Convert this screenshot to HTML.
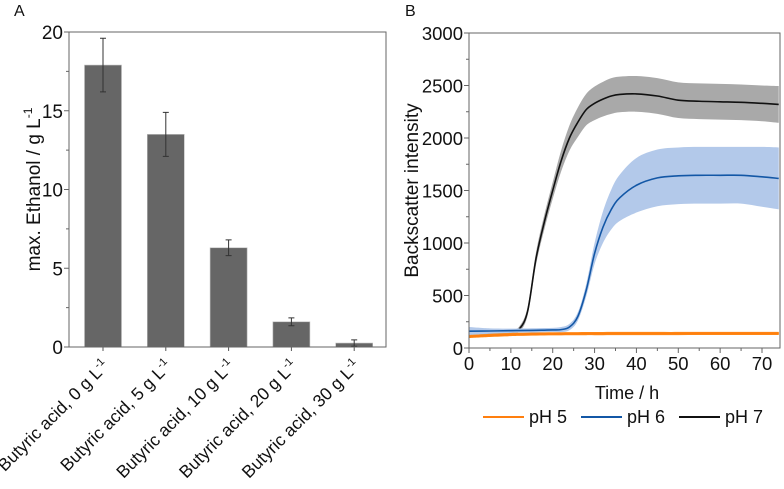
<!DOCTYPE html>
<html><head><meta charset="utf-8"><style>
body{margin:0;background:#fff;width:784px;height:484px;overflow:hidden}
svg text{font-family:"Liberation Sans",Arial,sans-serif;fill:#111}
</style></head><body>
<svg id="s" width="784" height="484">
<text x="14" y="16" font-size="16">A</text>
<text x="405" y="16" font-size="16">B</text>
<g id="ga"></g>
<g id="gb"></g>
</svg>
<script>
const categories=["Butyric acid, 0 g L","Butyric acid, 5 g L","Butyric acid, 10 g L","Butyric acid, 20 g L","Butyric acid, 30 g L"];
const ethanol=[17.9,13.5,6.3,1.6,0.25];
const ethanolErr=[1.7,1.4,0.5,0.25,0.2];
const yTicksA=[0,5,10,15,20];
const time=[0,5,10,12,14,16,18,20,22,24,26,28,30,32,34,36,40,45,50,55,60,65,70,74];
const ph7=[130,150,160,180,350,850,1200,1500,1780,2000,2150,2270,2330,2370,2400,2415,2420,2400,2360,2350,2345,2340,2330,2320];
const ph7Sd=[30,20,20,25,40,60,70,80,100,120,140,150,160,165,170,170,170,170,170,170,170,170,170,175];
const ph6=[160,162,165,166,167,168,170,172,175,200,300,550,900,1150,1320,1430,1550,1620,1640,1645,1645,1645,1630,1615];
const ph6Sd=[40,25,20,20,20,20,20,20,25,30,40,60,100,150,190,220,260,270,270,270,270,270,285,295];
const ph5=[110,120,128,130,132,133,134,135,135,136,136,137,137,137,138,138,138,138,138,139,139,139,139,139];
const ph5Sd=[15,15,15,15,15,15,15,15,15,15,15,15,15,15,15,15,15,15,15,15,15,15,15,15];
const xTicksB=[0,10,20,30,40,50,60,70];
const yTicksB=[0,500,1000,1500,2000,2500,3000];
const NS="http://www.w3.org/2000/svg";
function mk(p,t,a,txt){const e=document.createElementNS(NS,t);for(const k in a)e.setAttribute(k,a[k]);if(txt!==undefined)e.textContent=txt;p.appendChild(e);return e;}
function smooth(pts,start){
 let d=start?'M'+pts[0][0]+','+pts[0][1]:'L'+pts[0][0]+','+pts[0][1];
 for(let i=0;i<pts.length-1;i++){
  const p0=pts[Math.max(0,i-1)],p1=pts[i],p2=pts[i+1],p3=pts[Math.min(pts.length-1,i+2)];
  const c1=[p1[0]+(p2[0]-p0[0])/6,p1[1]+(p2[1]-p0[1])/6],c2=[p2[0]-(p3[0]-p1[0])/6,p2[1]-(p3[1]-p1[1])/6];
  d+=`C${c1[0]},${c1[1]} ${c2[0]},${c2[1]} ${p2[0]},${p2[1]}`;
 }
 return d;
}
// Panel A
const ga=document.getElementById('ga');
const ax0=69,ax1=386,ay0=347,ay1=32;
const ya=v=>ay0-(v/20)*(ay0-ay1);
const xa=i=>103+i*62.8;
for(let i=0;i<ethanol.length;i++){
 const b=mk(ga,'rect',{x:xa(i)-18.5,y:ya(ethanol[i]),width:37,height:ay0-ya(ethanol[i]),fill:'#666',stroke:'#bbb','stroke-width':0.6});
 
 
 const e=mk(ga,'path',{d:`M${xa(i)},${ya(ethanol[i]+ethanolErr[i])}V${ya(Math.max(0,ethanol[i]-ethanolErr[i]))}M${xa(i)-3},${ya(ethanol[i]+ethanolErr[i])}h6M${xa(i)-3},${ya(Math.max(0,ethanol[i]-ethanolErr[i]))}h6`,stroke:'#333','stroke-width':1,fill:'none'});
 
 
 mk(ga,'line',{x1:xa(i),x2:xa(i),y1:ay0,y2:ay0+4,stroke:'#555'});
 const t=mk(ga,'text',{x:0,y:0,'font-size':17.5,'text-anchor':'end',transform:`translate(${xa(i)+7},${ay0+20}) rotate(-45)`});
 t.textContent=categories[i];
 mk(t,'tspan',{dy:-7,'font-size':11},'-1');
 
 
}
mk(ga,'rect',{x:ax0,y:ay1,width:ax1-ax0,height:ay0-ay1,fill:'none',stroke:'#666','stroke-width':1});
for(let v=0;v<=20;v+=2.5){mk(ga,'line',{x1:ax0-(v%5==0?5:3),x2:ax0,y1:ya(v),y2:ya(v),stroke:'#666'});}
yTicksA.forEach(v=>{const t=mk(ga,'text',{x:ax0-6,y:ya(v)+7,'font-size':19,'text-anchor':'end'},v);});
const yt=mk(ga,'text',{transform:`translate(40,${(ay0+ay1)/2}) rotate(-90)`,'font-size':19,'text-anchor':'middle'},'max. Ethanol / g L');
mk(yt,'tspan',{dy:-8,'font-size':12},'-1');


// Panel B
const gb=document.getElementById('gb');
const bx0=469,bx1=780,by0=348,by1=33,xmax=74.3;
const xb=t=>bx0+t/xmax*(bx1-bx0);
const yb=v=>by0-v/3000*(by0-by1);
function band(m,sd,fill,name,line,w){
 const up=time.map((t,i)=>[xb(t),yb(m[i]+sd[i])]);
 const lo=time.map((t,i)=>[xb(t),yb(m[i]-sd[i])]).reverse();
 const p=mk(gb,'path',{d:smooth(up,true)+smooth(lo,false)+'Z',fill:fill,stroke:'none'});
 
 
 const l=mk(gb,'path',{d:smooth(time.map((t,i)=>[xb(t),yb(m[i])]),true),fill:'none',stroke:line,'stroke-width':w,'stroke-linejoin':'round'});
 
 
}
band(ph7,ph7Sd,'#a9a9a9','ph7','#111',1.6);
band(ph6,ph6Sd,'#b3c9ea','ph6','#1357a6',1.6);
band(ph5,ph5Sd,'#ff8c1a','ph5','#ff7f0e',2);
mk(gb,'rect',{x:bx0,y:by1,width:bx1-bx0,height:by0-by1,fill:'none',stroke:'#666'});
for(let v=0;v<=3000;v+=250)mk(gb,'line',{x1:bx0-(v%500==0?5:3),x2:bx0,y1:yb(v),y2:yb(v),stroke:'#666'});
for(let t=0;t<=70;t+=5)mk(gb,'line',{x1:xb(t),x2:xb(t),y1:by0,y2:by0+(t%10==0?5:3),stroke:'#666'});
yTicksB.forEach(v=>{const t=mk(gb,'text',{x:bx0-6,y:yb(v)+7,'font-size':18.5,'text-anchor':'end'},v);});
xTicksB.forEach(v=>{const t=mk(gb,'text',{x:xb(v),y:370,'font-size':18.5,'text-anchor':'middle'},v);});
const xtb=mk(gb,'text',{x:627,y:399,'font-size':18,'text-anchor':'middle'},'Time / h');

const ytb=mk(gb,'text',{transform:`translate(418,${(by0+by1)/2}) rotate(-90)`,'font-size':19,'text-anchor':'middle'},'Backscatter intensity');

[['pH 5','#ff7f0e',483],['pH 6','#1357a6',581],['pH 7','#111',679]].forEach(([n,c,x])=>{
 const g=mk(gb,'g',{});
 
 
 mk(g,'line',{x1:x,x2:x+41,y1:417,y2:417,stroke:c,'stroke-width':2});
 mk(g,'text',{x:x+46,y:423,'font-size':18},n);
});
</script>
</body></html>
